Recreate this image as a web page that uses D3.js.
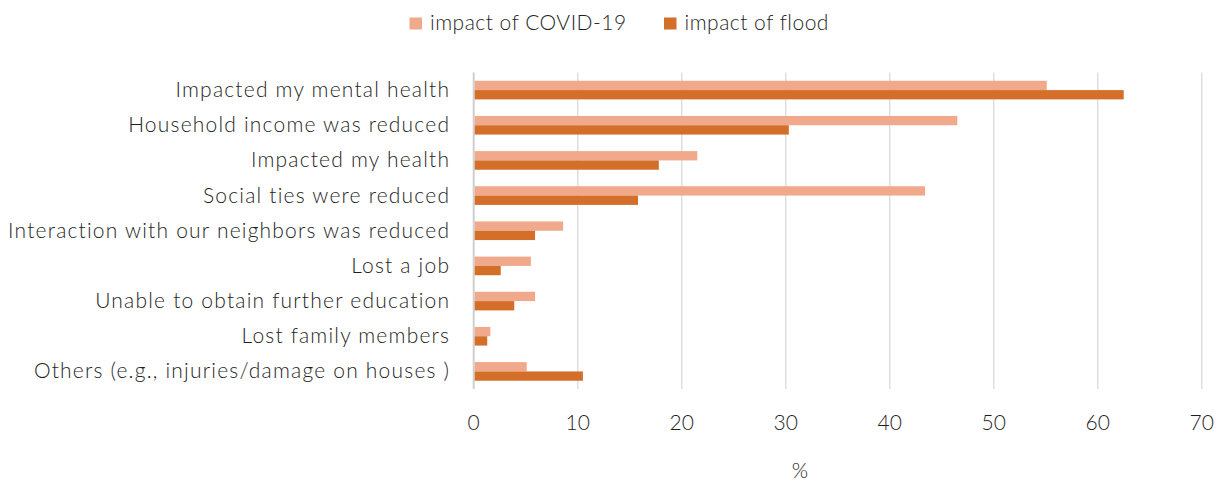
<!DOCTYPE html>
<html>
<head>
<meta charset="utf-8">
<script src="https://cdn.jsdelivr.net/npm/d3@7"></script>
<style>
  body { margin: 0; background: #fff; }
  text { font-family: Lato, "Open Sans", sans-serif; font-weight: 300; fill: #1f1f1f; }
</style>
</head>
<body>
<svg id="chart" width="1221" height="482"></svg>
<script>
const categories = [
  "Impacted my mental health",
  "Household income was reduced",
  "Impacted my health",
  "Social ties were reduced",
  "Interaction with our neighbors was reduced",
  "Lost a job",
  "Unable to obtain further education",
  "Lost family members",
  "Others (e.g., injuries/damage on houses )"
];
const covidValues = [55.1, 46.5, 21.5, 43.4, 8.6, 5.5, 5.9, 1.6, 5.1];
const floodValues = [62.5, 30.3, 17.8, 15.8, 5.9, 2.6, 3.9, 1.3, 10.5];
const seriesNames = ["impact of COVID-19", "impact of flood"];
const seriesColors = ["#F0A98A", "#D46F2A"];
const xTicks = [0, 10, 20, 30, 40, 50, 60, 70];
const axisTitle = "%";

const svg = d3.select("#chart");
const pLeft = 473.7, pRight = 1201.7, pTop = 72.5, pBottom = 389;
const fs = 21;

const x = d3.scaleLinear().domain([0, 70]).range([pLeft, pRight]);
const y = d3.scaleBand().domain(categories).range([pTop, pBottom]).paddingInner(0.47).paddingOuter(0.235);
const ySub = d3.scaleBand().domain([0, 1]).range([0, y.bandwidth()]);

// gridlines
svg.append("g").selectAll("line").data(xTicks).join("line")
  .attr("x1", d => x(d)).attr("x2", d => x(d))
  .attr("y1", pTop).attr("y2", pBottom)
  .attr("stroke", d => d === 0 ? "#cfcfcf" : "#dedede")
  .attr("stroke-width", d => d === 0 ? 2 : 1.5);

// bars
const series = [covidValues, floodValues];
series.forEach((vals, si) => {
  svg.append("g").selectAll("rect").data(categories).join("rect")
    .attr("x", x(0) + 1)
    .attr("y", d => y(d) + ySub(si))
    .attr("width", (d, i) => Math.max(0, x(vals[i]) - x(0) - 1))
    .attr("height", ySub.bandwidth())
    .attr("fill", seriesColors[si]);
});

// category labels
svg.append("g").selectAll("text").data(categories).join("text")
  .attr("x", 450.2)
  .attr("y", d => y(d) + y.bandwidth() / 2 + 7)
  .attr("text-anchor", "end")
  .attr("font-size", fs)
  .attr("letter-spacing", 1.2)
  .text(d => d);

// x tick labels
svg.append("g").selectAll("text").data(xTicks).join("text")
  .attr("x", d => x(d))
  .attr("y", 429.5)
  .attr("text-anchor", "middle")
  .attr("font-size", fs)
  .text(d => d);

// axis title
svg.append("text").attr("x", 800).attr("y", 478).attr("text-anchor", "middle")
  .attr("font-size", fs).text(axisTitle);

// legend
const legendX = [409.5, 664];
seriesNames.forEach((name, i) => {
  svg.append("rect").attr("x", legendX[i]).attr("y", 17.5).attr("width", 12.5).attr("height", 12)
    .attr("fill", seriesColors[i]);
  svg.append("text").attr("x", legendX[i] + 20.5).attr("y", 29.5).attr("font-size", fs)
    .attr("letter-spacing", 0.5).text(name);
});
</script>
</body>
</html>
